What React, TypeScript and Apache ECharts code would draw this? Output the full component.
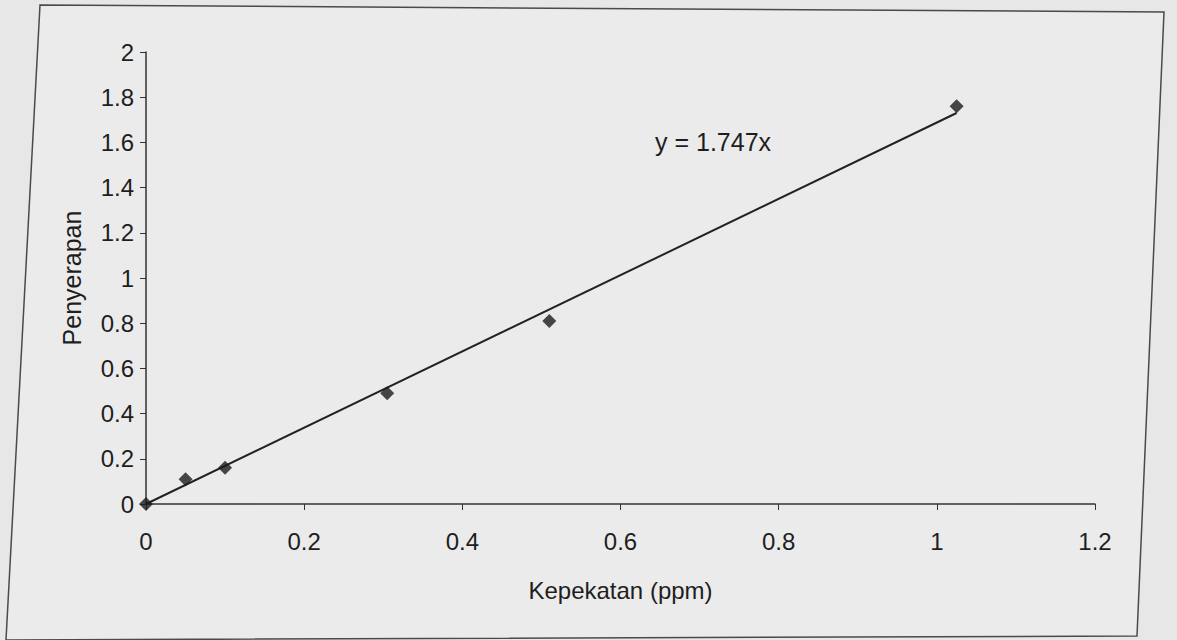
import React, { useEffect, useRef } from "react";
import * as echarts from "echarts";

const concentrations = [0, 0.05, 0.1, 0.305, 0.51, 1.025];
const absorbances = [0, 0.11, 0.16, 0.49, 0.81, 1.76];
const trendX = [0, 1.025];
const trendY = [0, 1.73];
const equationText = "y = 1.747x";
const xAxisTitle = "Kepekatan (ppm)";
const yAxisTitle = "Penyerapan";

export default function App() {
  const ref = useRef<HTMLDivElement>(null);
  useEffect(() => {
    if (!ref.current) return;
    const chart = echarts.init(ref.current, null, { renderer: "svg" });
    const font = "Arial, 'Liberation Sans', sans-serif";
    const txt = "#1e1e1e";
    chart.setOption({
      animation: false,
      backgroundColor: "#e7e7e7",
      grid: { left: 146, right: 82, top: 52, bottom: 136 },
      graphic: [
        {
          type: "polygon",
          shape: { points: [[40, 5], [1164, 12], [1137, 636], [6, 640]] },
          style: { fill: "#ebebeb", stroke: "#4a4a4a", lineWidth: 1.5 },
          z: -10,
        },
        {
          type: "text",
          left: 655,
          top: 129,
          style: { text: equationText, font: `25px ${font}`, fill: txt },
        },
      ],
      xAxis: {
        type: "value",
        min: 0,
        max: 1.2,
        interval: 0.2,
        name: xAxisTitle,
        nameLocation: "middle",
        nameGap: 74,
        nameTextStyle: { fontFamily: font, fontSize: 24, color: txt },
        axisLine: { lineStyle: { color: "#333", width: 1.5 } },
        axisTick: { inside: false, length: 6, lineStyle: { color: "#333" } },
        axisLabel: { fontFamily: font, fontSize: 24, color: txt, margin: 25 },
        splitLine: { show: false },
      },
      yAxis: {
        type: "value",
        min: 0,
        max: 2,
        interval: 0.2,
        name: yAxisTitle,
        nameLocation: "middle",
        nameGap: 62,
        nameTextStyle: { fontFamily: font, fontSize: 25, color: txt },
        axisLine: { show: true, lineStyle: { color: "#333", width: 1.5 } },
        axisTick: { show: true, inside: false, length: 6, lineStyle: { color: "#333" } },
        axisLabel: { fontFamily: font, fontSize: 24, color: txt, margin: 12 },
        splitLine: { show: false },
      },
      series: [
        {
          type: "line",
          data: trendX.map((x, i) => [x, trendY[i]]),
          symbol: "none",
          lineStyle: { color: "#222", width: 2 },
          z: 2,
        },
        {
          type: "scatter",
          data: concentrations.map((x, i) => [x, absorbances[i]]),
          symbol: "diamond",
          symbolSize: 14,
          itemStyle: { color: "#1c1c1c" },
          z: 3,
        },
      ],
    });
    return () => chart.dispose();
  }, []);
  return (
    <div
      ref={ref}
      style={{ position: "absolute", left: 0, top: 0, width: 1177, height: 640 }}
    />
  );
}
